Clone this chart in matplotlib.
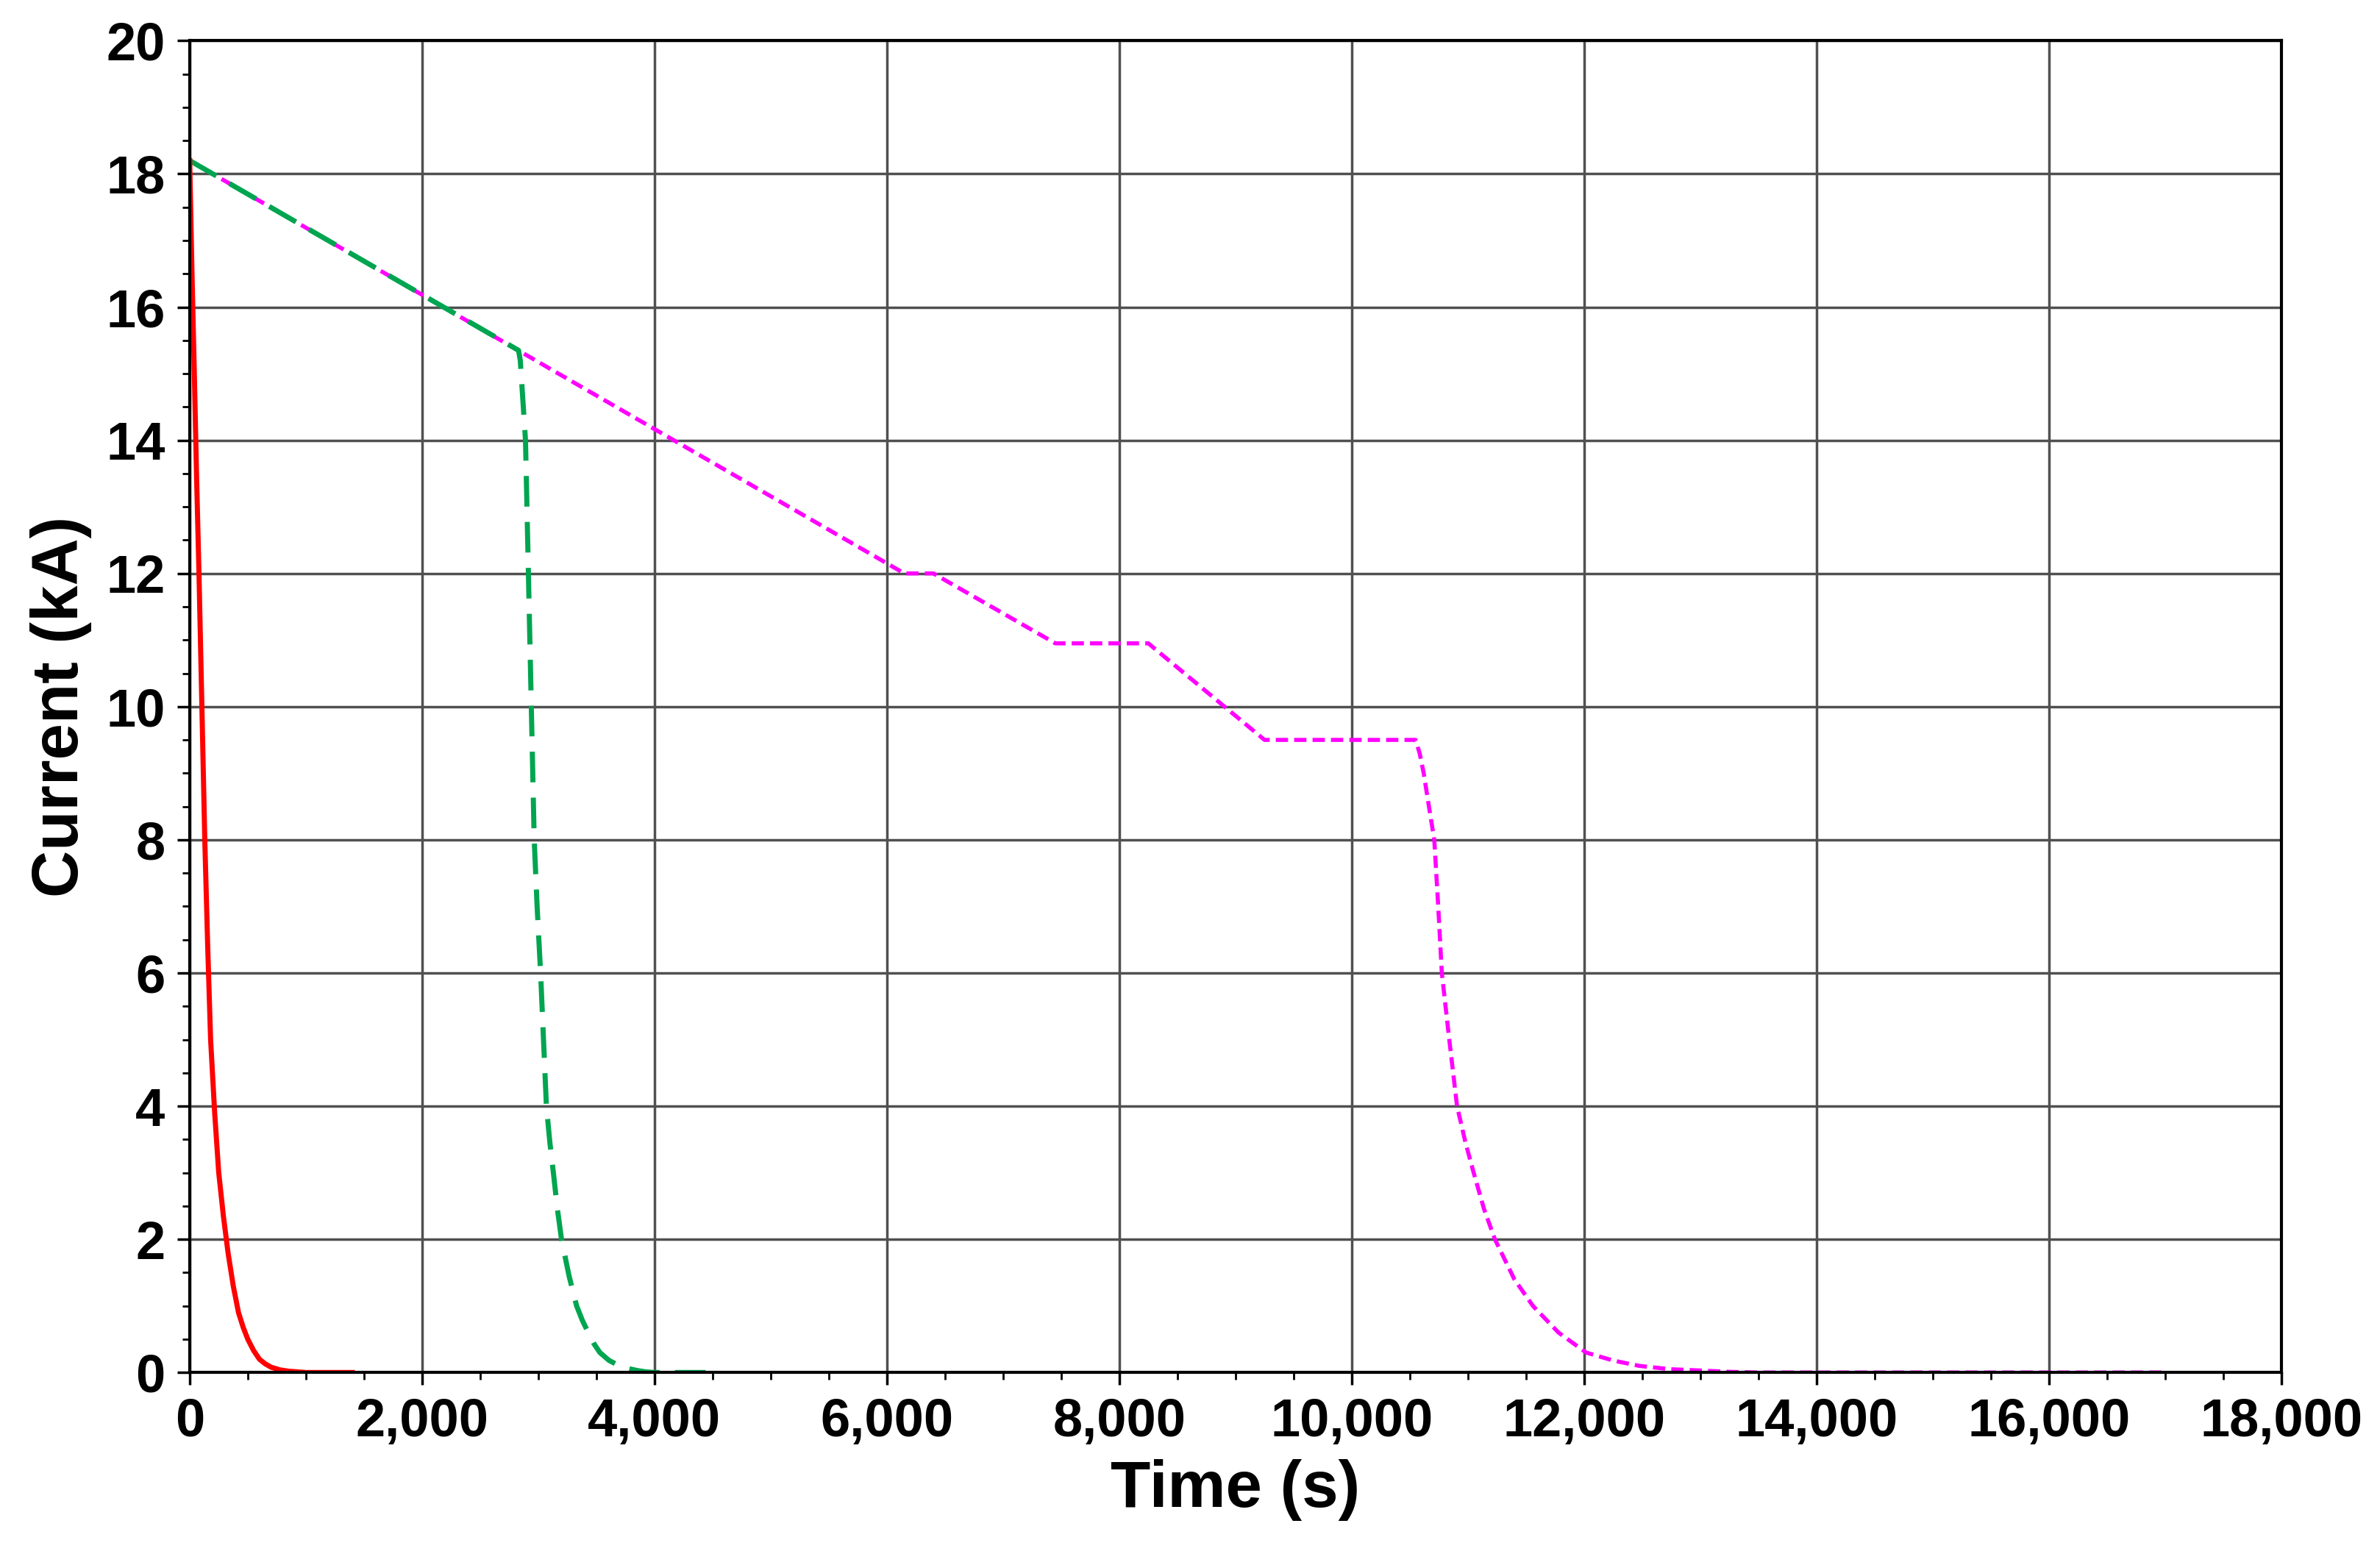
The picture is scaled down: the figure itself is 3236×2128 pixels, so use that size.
import matplotlib
matplotlib.use("Agg")
import matplotlib.pyplot as plt
from matplotlib.ticker import MultipleLocator, FuncFormatter

plt.rcParams['font.family'] = ['Liberation Sans', 'DejaVu Sans']
plt.rcParams['font.weight'] = 'bold'

red_t = [0, 20, 40, 60, 80, 105, 130, 155, 180, 215, 250, 290, 330, 375, 420, 460, 500, 550, 600, 650, 700, 775, 850, 925, 1000, 1400]
red_i = [18.2, 16.5, 15, 13.4, 12, 10, 8, 6.4, 5, 3.9, 3, 2.35, 1.8, 1.3, 0.9, 0.68, 0.5, 0.33, 0.2, 0.13, 0.08, 0.04, 0.02, 0.01, 0, 0]

green_t = [0, 2830, 2845, 2860, 2875, 2890, 2915, 2940, 2965, 2990, 3020, 3045, 3070, 3100, 3130, 3165, 3200, 3265, 3330, 3380, 3430, 3480, 3530, 3610, 3700, 3775, 3850, 3925, 4000, 4500]
green_i = [18.2, 15.35, 15.2, 14.8, 14.4, 14, 12, 10, 8, 7, 6, 5, 4, 3.45, 3, 2.45, 2, 1.45, 1, 0.78, 0.6, 0.43, 0.3, 0.18, 0.1, 0.06, 0.03, 0.01, 0, 0]

mag_t = [0, 6150, 6400, 7450, 8250, 9250, 10550, 10585, 10620, 10665, 10711, 10745, 10776, 10840, 10907, 10980, 11050, 11140, 11233, 11400, 11560, 11780, 12017, 12250, 12474, 12740, 13000, 13250, 13500, 17000]
mag_i = [18.2, 12.0, 12.0, 10.95, 10.95, 9.5, 9.5, 9.3, 9.0, 8.5, 8, 7, 6, 5, 4, 3.45, 3, 2.45, 2, 1.4, 1, 0.6, 0.3, 0.18, 0.1, 0.05, 0.03, 0.01, 0, 0]

fig = plt.figure(figsize=(32.36, 21.28), dpi=100)
ax = fig.add_axes([0.0797, 0.123, 0.8788, 0.851])
ax.plot(mag_t, mag_i, color='#FF00FF', lw=4, linestyle=(0, (3, 1.5)))
ax.plot(green_t, green_i, color='#00A550', lw=5, linestyle=(0, (6, 3)))
ax.plot(red_t, red_i, color='#FF0000', lw=5)

ax.set_xlim(0, 18000)
ax.set_ylim(0, 20)
ax.xaxis.set_major_locator(MultipleLocator(2000))
ax.xaxis.set_minor_locator(MultipleLocator(500))
ax.yaxis.set_major_locator(MultipleLocator(2))
ax.yaxis.set_minor_locator(MultipleLocator(0.5))
ax.xaxis.set_major_formatter(FuncFormatter(lambda v, p: f"{int(v):,}"))
ax.grid(True, which='major', color='#505050', lw=2.5)
ax.tick_params(which='major', length=12, width=2.5, labelsize=52, pad=12)
ax.tick_params(which='minor', length=7, width=2)
for lab in ax.get_xticklabels() + ax.get_yticklabels():
    lab.set_fontweight('bold')
for s in ax.spines.values():
    s.set_linewidth(3)
ax.set_xlabel('Time (s)', fontsize=64, fontweight='bold', labelpad=12)
ax.set_ylabel('Current (kA)', fontsize=64, fontweight='bold', labelpad=14)
fig.savefig('out.png', dpi=100)
